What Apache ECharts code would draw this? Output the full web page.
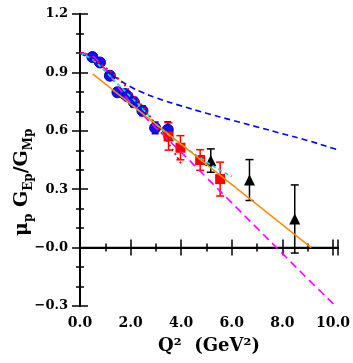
<!DOCTYPE html>
<html><head><meta charset="utf-8">
<script src="https://cdn.jsdelivr.net/npm/echarts@6/dist/echarts.min.js"></script>
<style>html,body{margin:0;padding:0;background:#fff}#c{width:353px;height:363px}</style>
</head><body><div id="c"></div>
<script>
// Data
const blueQ   = [0.49, 0.79, 1.18, 1.48, 1.77, 1.88, 2.13, 2.47, 2.97, 3.47];
const blueR   = [0.979, 0.951, 0.883, 0.798, 0.789, 0.777, 0.747, 0.703, 0.615, 0.606];
const blueErr = [0.015, 0.015, 0.015, 0.02, 0.02, 0.02, 0.025, 0.025, 0.03, 0.04];
const redQ   = [3.50, 3.97, 4.75, 5.54];
const redR   = [0.571, 0.513, 0.450, 0.352];
const redErr = [0.07, 0.062, 0.053, 0.087];
const blackQ   = [5.17, 6.70, 8.49];
const blackR   = [0.447, 0.347, 0.147];
const blackErr = [0.06, 0.105, 0.175];
const blueDashQ = [0, 0.5, 1, 1.5, 2, 2.5, 3, 4, 5, 6, 7, 8, 9, 10, 10.2];
const blueDashR = [1.0, 0.96, 0.912, 0.866, 0.826, 0.795, 0.77, 0.728, 0.69, 0.655, 0.62, 0.585, 0.55, 0.51, 0.503];
const magentaQ = [0, 0.4, 0.8, 1.2, 1.6, 2, 2.5, 3, 4, 5, 6, 7, 8, 9, 10.1];
const magentaR = [1.0, 0.99, 0.945, 0.88, 0.81, 0.745, 0.68, 0.615, 0.49, 0.36, 0.23, 0.1, -0.03, -0.16, -0.3];
const cyanQ = [0, 0.5, 1, 1.5, 2, 2.5, 3, 3.3, 4, 5, 5.5, 6];
const cyanR = [1.0, 0.965, 0.905, 0.84, 0.775, 0.71, 0.635, 0.6, 0.53, 0.44, 0.40, 0.365];
const redDotQ = [0, 0.5, 1, 1.5, 2, 2.5, 3, 3.5, 4.0];
const redDotR = [1.0, 0.97, 0.925, 0.87, 0.8, 0.72, 0.63, 0.535, 0.43];
const orangeQ = [0.5, 9.14];
const orangeR = [0.892, 0.0];
const zeroQ = [0, 10.2];
const zeroR = [0, 0];

const zip = (a, b) => a.map((v, i) => [v, b[i]]);
const errData = (q, r, e) => q.map((v, i) => [v, r[i] - e[i], r[i] + e[i]]);

function errBar(color, cap) {
  return function (params, api) {
    const x = api.value(0), lo = api.value(1), hi = api.value(2);
    const p1 = api.coord([x, lo]), p2 = api.coord([x, hi]);
    const st = { stroke: color, lineWidth: 1.5 };
    return { type: 'group', children: [
      { type: 'line', shape: { x1: p1[0], y1: p1[1], x2: p2[0], y2: p2[1] }, style: st },
      { type: 'line', shape: { x1: p1[0] - cap, y1: p1[1], x2: p1[0] + cap, y2: p1[1] }, style: st },
      { type: 'line', shape: { x1: p2[0] - cap, y1: p2[1], x2: p2[0] + cap, y2: p2[1] }, style: st }
    ]};
  };
}

const FONT = 'DejaVu Serif';
const fmtY = v => {
  if (Math.abs(v) < 1e-9) return '\u22120.0';
  return v < 0 ? '\u2212' + Math.abs(v).toFixed(1) : v.toFixed(1);
};
const axisLine = { lineStyle: { color: '#000', width: 1.8 } };

const chart = echarts.init(document.getElementById('c'));
chart.setOption({
  animation: false,
  backgroundColor: '#fff',
  grid: { left: 80, right: 14, top: 14, bottom: 57 },
  xAxis: [{
    type: 'value', min: 0, max: 10.2, interval: 2, position: 'bottom',
    axisLine: axisLine,
    axisTick: { inside: true, length: 8, lineStyle: { color: '#000', width: 1.5 } },
    minorTick: { show: true, splitNumber: 2, length: 4, lineStyle: { color: '#000', width: 1.5 } },
    splitLine: { show: false },
    axisLabel: { show: true, margin: 10, color: '#000', fontFamily: FONT, fontWeight: 'bold', fontSize: 14, formatter: v => v.toFixed(1), showMaxLabel: false },
    name: 'Q\u00b2  (GeV\u00b2)', nameLocation: 'middle', nameGap: 31,
    nameTextStyle: { color: '#000', fontFamily: FONT, fontWeight: 'bold', fontSize: 18 }
  }, {
    type: 'value', min: 0, max: 10.2, interval: 2, position: 'top',
    axisLine: axisLine,
    axisTick: { inside: true, length: 8, lineStyle: { color: '#000', width: 1.5 } },
    minorTick: { show: true, splitNumber: 2, length: 4, lineStyle: { color: '#000', width: 1.5 } },
    splitLine: { show: false }, axisLabel: { show: false }
  }],
  yAxis: [{
    type: 'value', min: -0.3, max: 1.2, interval: 0.3, position: 'left',
    axisLine: axisLine,
    axisTick: { inside: true, length: 8, lineStyle: { color: '#000', width: 1.5 } },
    minorTick: { show: true, splitNumber: 3, length: 4, lineStyle: { color: '#000', width: 1.5 } },
    splitLine: { show: false },
    axisLabel: { show: true, margin: 12, color: '#000', fontFamily: FONT, fontWeight: 'bold', fontSize: 13, formatter: fmtY }
  }, {
    type: 'value', min: -0.3, max: 1.2, interval: 0.3, position: 'right',
    axisLine: axisLine,
    axisTick: { inside: true, length: 8, lineStyle: { color: '#000', width: 1.5 } },
    minorTick: { show: true, splitNumber: 3, length: 4, lineStyle: { color: '#000', width: 1.5 } },
    splitLine: { show: false }, axisLabel: { show: false }
  }],
  graphic: [{
    type: 'text', rotation: Math.PI / 2, originX: 0, originY: 0,
    x: 9, y: 236,
    style: {
      text: '{a|\u03bc}{s|p}{a| G}{s|Ep}{a|/G}{s|Mp}',
      rich: {
        a: { fontFamily: FONT, fontWeight: 'bold', fontSize: 19, lineHeight: 26, verticalAlign: 'middle', fill: '#000' },
        s: { fontFamily: FONT, fontWeight: 'bold', fontSize: 12, lineHeight: 12, verticalAlign: 'bottom', fill: '#000' }
      }
    }
  }],
  series: [
    { type: 'line', data: zip(zeroQ, zeroR), showSymbol: false, lineStyle: { color: '#000', width: 1.5 }, z: 1 },
    { type: 'custom', renderItem: errBar('#0000ff', 3.5), data: errData(blueQ, blueR, blueErr), encode: { x: 0, y: [1, 2] }, z: 3 },
    { type: 'scatter', data: zip(blueQ, blueR), symbol: 'circle', symbolSize: 11, itemStyle: { color: '#1010ff', borderColor: '#0000aa', borderWidth: 1, opacity: 1 }, z: 3 },
    { type: 'custom', renderItem: errBar('#ff0000', 4), data: errData(redQ, redR, redErr), encode: { x: 0, y: [1, 2] }, z: 3 },
    { type: 'scatter', data: zip(redQ, redR), symbol: 'rect', symbolSize: 10, itemStyle: { color: '#ff0000', opacity: 1 }, z: 3 },
    { type: 'custom', renderItem: errBar('#000000', 4), data: errData(blackQ, blackR, blackErr), encode: { x: 0, y: [1, 2] }, z: 3 },
    { type: 'scatter', data: zip(blackQ, blackR), symbol: 'triangle', symbolSize: 11, itemStyle: { color: '#000', opacity: 1 }, z: 3 },
    { type: 'line', data: zip(blueDashQ, blueDashR), smooth: true, showSymbol: false, lineStyle: { color: '#0000ff', width: 1.6, type: [6, 4] }, z: 4 },
    { type: 'line', data: zip(magentaQ, magentaR), smooth: true, showSymbol: false, lineStyle: { color: '#ff00ff', width: 1.6, type: [8, 5] }, z: 4 },
    { type: 'line', data: zip(cyanQ, cyanR), smooth: true, showSymbol: false, lineStyle: { color: '#00e5e5', width: 1.6, type: [4, 3] }, z: 4 },
    { type: 'line', data: zip(redDotQ, redDotR), smooth: true, showSymbol: false, lineStyle: { color: '#ff0000', width: 1.8, type: [2, 3] }, z: 4 },
    { type: 'line', data: zip(orangeQ, orangeR), showSymbol: false, lineStyle: { color: '#ff8c00', width: 1.5 }, z: 4 }
  ]
});
</script></body></html>
